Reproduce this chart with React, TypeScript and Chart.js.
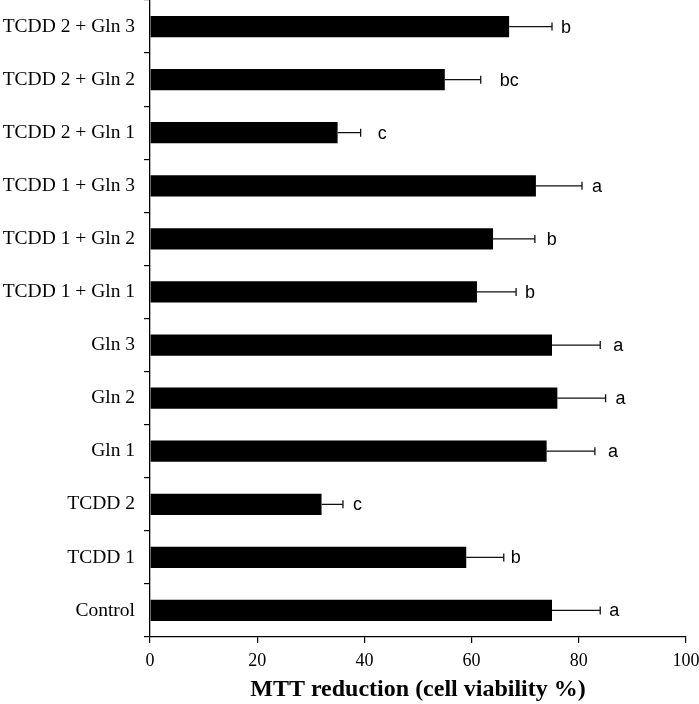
import React, { useEffect, useRef } from "react";
import { Chart, registerables } from "chart.js";

Chart.register(...registerables);

// ---- data ----
const categories = [
  "TCDD 2 + Gln 3",
  "TCDD 2 + Gln 2",
  "TCDD 2 + Gln 1",
  "TCDD 1 + Gln 3",
  "TCDD 1 + Gln 2",
  "TCDD 1 + Gln 1",
  "Gln 3",
  "Gln 2",
  "Gln 1",
  "TCDD 2",
  "TCDD 1",
  "Control",
];
const viability = [67, 55, 35, 72, 64, 61, 75, 76, 74, 32, 59, 75];
const errors = [8, 6.7, 4.3, 8.6, 7.8, 7.3, 9, 9, 9, 4, 7, 9];
const letters = ["b", "bc", "c", "a", "b", "b", "a", "a", "a", "c", "b", "a"];
const xTicks = [0, 20, 40, 60, 80, 100];
const xTitle = "MTT reduction (cell viability %)";

// ---- style ----
const letterGap = [9, 19, 17, 10, 12, 9, 13, 10, 13, 10, 7, 9];
const SERIF = "'Liberation Serif', 'Times New Roman', serif";
const SANS = "'Liberation Sans', Arial, sans-serif";

const errorBarPlugin = {
  id: "errorBars",
  afterDatasetsDraw(chart: any) {
    const ctx = chart.ctx;
    const meta = chart.getDatasetMeta(0);
    const xs = chart.scales.x;
    ctx.save();
    meta.data.forEach((bar: any, i: number) => {
      const y = bar.y;
      const x0 = xs.getPixelForValue(viability[i]);
      const x1 = xs.getPixelForValue(viability[i] + errors[i]);
      ctx.strokeStyle = "#111";
      ctx.lineWidth = 1.3;
      ctx.beginPath();
      ctx.moveTo(x0, y);
      ctx.lineTo(x1, y);
      ctx.moveTo(x1, y - 4);
      ctx.lineTo(x1, y + 4);
      ctx.stroke();
      ctx.fillStyle = "#000";
      ctx.font = `18px ${SANS}`;
      ctx.textAlign = "left";
      ctx.textBaseline = "middle";
      ctx.fillText(letters[i], x1 + letterGap[i], y + 1);
    });
    ctx.restore();
  },
};

export default function App() {
  const ref = useRef<HTMLCanvasElement | null>(null);
  useEffect(() => {
    if (!ref.current) return;
    const chart = new Chart(ref.current, {
      type: "bar",
      data: {
        labels: categories,
        datasets: [
          {
            data: viability,
            backgroundColor: "#000",
            borderColor: "#222",
            borderWidth: 0,
            barPercentage: 0.4,
            categoryPercentage: 1.0,
          },
        ],
      },
      options: {
        indexAxis: "y",
        responsive: false,
        animation: false,
        devicePixelRatio: 1,
        layout: { padding: { top: 0, right: 13, left: 0, bottom: 0 } },
        plugins: {
          legend: { display: false },
          tooltip: { enabled: false },
        },
        scales: {
          x: {
            min: xTicks[0],
            max: xTicks[xTicks.length - 1],
            afterBuildTicks(scale: any) {
              scale.ticks = xTicks.map((v) => ({ value: v }));
            },
            afterFit(scale: any) {
              scale.height = 67;
              scale.paddingLeft = 0;
              scale.paddingRight = 0;
            },
            grid: {
              drawOnChartArea: false,
              drawTicks: true,
              tickLength: 6,
              color: "#000",
              lineWidth: 1.2,
            },
            border: { color: "#000", width: 1.3 },
            ticks: {
              color: "#000",
              font: { family: SERIF, size: 18 },
              padding: 7,
              maxRotation: 0,
            },
            title: {
              display: true,
              text: xTitle,
              color: "#000",
              font: { family: SERIF, size: 24, weight: "bold" },
              padding: { top: 0, bottom: 0 },
            },
          },
          y: {
            type: "category",
            offset: true,
            afterFit(scale: any) {
              scale.width = 150;
              scale.paddingTop = 0;
              scale.paddingBottom = 0;
            },
            grid: {
              offset: true,
              drawOnChartArea: false,
              drawTicks: true,
              tickLength: 6,
              color: "#000",
              lineWidth: 1.2,
            },
            border: { color: "#000", width: 1.3 },
            ticks: {
              color: "#000",
              font: { family: SERIF, size: 19.5 },
              padding: 9,
              autoSkip: false,
            },
          },
        },
      } as any,
      plugins: [errorBarPlugin],
    });
    return () => chart.destroy();
  }, []);

  return (
    <div style={{ position: "fixed", left: 0, top: 0, width: 699, height: 704, background: "#fff" }}>
      <canvas ref={ref} width={699} height={704} style={{ display: "block" }} />
    </div>
  );
}
